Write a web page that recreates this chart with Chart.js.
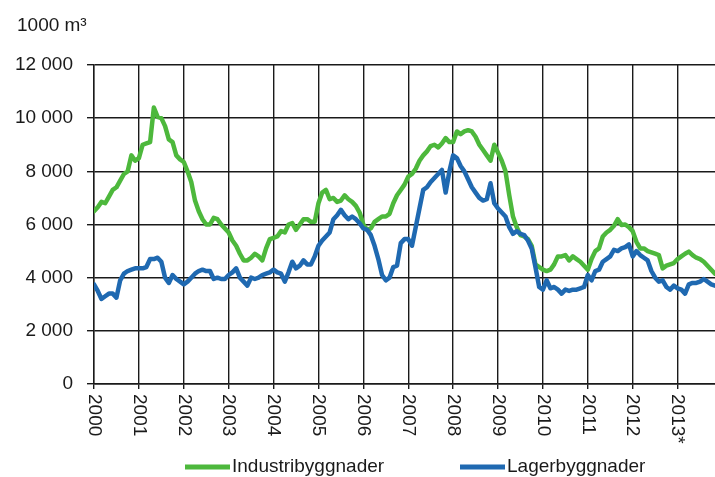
<!DOCTYPE html>
<html>
<head>
<meta charset="utf-8">
<script src="https://cdn.jsdelivr.net/npm/chart.js@4/dist/chart.umd.min.js"></script>
<style>
html,body{margin:0;padding:0;background:#fff;}
#wrap{width:715px;height:477px;position:relative;}
</style>
</head>
<body>
<div id="wrap"><canvas id="c"></canvas></div>
<script>
// Year tick labels (one per January)
const years = ['2000','2001','2002','2003','2004','2005','2006','2007','2008','2009','2010','2011','2012','2013*'];
const yTicks = [0, 2000, 4000, 6000, 8000, 10000, 12000];
const unitLabel = '1000 m³';
const seriesNames = ['Industribyggnader', 'Lagerbyggnader'];

// Monthly values, Jan 2000 ... Nov 2013
const industri = [
  6500, 6650, 6850, 6800, 7050, 7300, 7400, 7650, 7900, 8000, 8600, 8400,
  8500, 9000, 9050, 9100, 10400, 10050, 10000, 9700, 9200, 9100, 8600, 8450,
  8350, 8000, 7600, 6900, 6500, 6200, 6000, 6000, 6250, 6200, 6000, 5850,
  5700, 5400, 5200, 4900, 4650, 4650, 4750, 4900, 4800, 4650, 5100, 5450,
  5500, 5550, 5750, 5700, 6000, 6050, 5800, 6000, 6200, 6200, 6100, 6100,
  6800, 7200, 7300, 6950, 7000, 6850, 6900, 7100, 6950, 6850, 6700, 6450,
  6000, 5800, 5850, 6100, 6200, 6300, 6300, 6400, 6800, 7100, 7300, 7500,
  7800, 7900, 8100, 8400, 8600, 8750, 8950, 9000, 8900, 9050, 9250, 9100,
  9100, 9500, 9400, 9500, 9550, 9500, 9300, 9000, 8800, 8600, 8400, 9000,
  8700, 8400, 8000, 7100, 6300, 5900, 5600, 5550, 5450, 5200, 4500, 4400,
  4300, 4250, 4300, 4500, 4800, 4800, 4850, 4650, 4800, 4700, 4600, 4450,
  4300, 4700, 5000, 5100, 5550, 5700, 5800, 5950, 6200, 5980, 6000, 5900,
  5750, 5350, 5100, 5100, 5000, 4950, 4900, 4850, 4350, 4450, 4500, 4550,
  4700, 4800, 4900, 4980, 4850, 4750, 4700, 4600, 4450, 4300, 4150
];
const lager = [
  3750, 3500, 3200, 3300, 3400, 3400, 3250, 3900, 4150, 4250, 4300, 4350,
  4350, 4350, 4400, 4700, 4700, 4750, 4600, 4000, 3800, 4100, 3950, 3850,
  3750, 3850, 4000, 4150, 4250, 4300, 4250, 4250, 3950, 4000, 3950, 3950,
  4100, 4200, 4350, 4000, 3850, 3700, 4000, 3950, 4000, 4100, 4150, 4200,
  4300, 4200, 4150, 3850, 4200, 4600, 4350, 4450, 4650, 4500, 4500, 4800,
  5200, 5400, 5550, 5700, 6200, 6350, 6550, 6350, 6200, 6300, 6200, 6050,
  5850, 5800, 5600, 5200, 4700, 4100, 3900, 4000, 4400, 4450, 5300, 5450,
  5450, 5200, 5900, 6600, 7300, 7400, 7600, 7750, 7900, 8050, 7200, 8000,
  8600, 8500, 8200, 8000, 7700, 7400, 7200, 7000, 6900, 6950, 7550, 6800,
  6600, 6450, 6300, 5900, 5650, 5750, 5650, 5600, 5400, 5100, 4400, 3650,
  3550, 3900, 3600, 3650, 3550, 3400, 3550, 3500, 3550, 3550, 3600, 3650,
  4100, 3900, 4250, 4300, 4600, 4700, 4800, 5050, 5000, 5100, 5150, 5250,
  4800, 5000, 4850, 4750, 4650, 4250, 4000, 3850, 3900, 3650, 3550, 3700,
  3600, 3550, 3400, 3750, 3800, 3800, 3850, 3950, 3850, 3750, 3700
];
const colors = ['#4db83c', '#1f69b1'];

const FONT = '"Liberation Sans", Arial, sans-serif';
const TEXT = '#1a1a1a';
const GRID = '#1a1a1a';

function fmt(v){ return String(v).replace(/\B(?=(\d{3})+(?!\d))/g, ' '); }

const extras = {
  id: 'extras',
  afterDraw(chart){
    const ctx = chart.ctx;
    const xs = chart.scales.x;
    const area = chart.chartArea;
    ctx.save();
    ctx.fillStyle = TEXT;
    ctx.font = '19px ' + FONT;
    // unit label
    ctx.textAlign = 'left';
    ctx.textBaseline = 'alphabetic';
    ctx.fillText(unitLabel, 17, 31);
    // rotated year labels (reading top to bottom)
    years.forEach((lab, i) => {
      const x = xs.getPixelForValue(i * 12);
      ctx.save();
      ctx.translate(x, area.bottom + 10);
      ctx.rotate(Math.PI / 2);
      ctx.textAlign = 'left';
      ctx.textBaseline = 'middle';
      ctx.fillText(lab, 0, 0);
      ctx.restore();
    });
    // legend
    const ly = 467;
    const starts = [185, 460];
    seriesNames.forEach((name, i) => {
      const sx = starts[i];
      ctx.strokeStyle = colors[i];
      ctx.lineWidth = 5;
      ctx.beginPath();
      ctx.moveTo(sx, ly);
      ctx.lineTo(sx + 45, ly);
      ctx.stroke();
      ctx.fillStyle = TEXT;
      ctx.textAlign = 'left';
      ctx.textBaseline = 'middle';
      ctx.fillText(name, sx + 47, ly);
    });
    ctx.restore();
  }
};

new Chart(document.getElementById('c'), {
  type: 'line',
  data: {
    datasets: [
      { label: seriesNames[0], data: industri.map((v, i) => ({x: i, y: v})), order: 2,
        borderColor: colors[0], backgroundColor: colors[0], borderWidth: 4.5,
        pointRadius: 0, tension: 0, borderJoinStyle: 'round', borderCapStyle: 'round' },
      { label: seriesNames[1], data: lager.map((v, i) => ({x: i, y: v})), order: 1,
        borderColor: colors[1], backgroundColor: colors[1], borderWidth: 4.5,
        pointRadius: 0, tension: 0, borderJoinStyle: 'round', borderCapStyle: 'round' }
    ]
  },
  options: {
    responsive: true,
    maintainAspectRatio: false,
    animation: false,
    events: [],
    layout: { padding: { top: 65, right: 0, bottom: 0, left: 0 } },
    plugins: { legend: { display: false }, tooltip: { enabled: false }, title: { display: false } },
    scales: {
      x: {
        type: 'linear',
        min: 0,
        max: 166,
        afterBuildTicks(scale){ scale.ticks = years.map((_, i) => ({ value: i * 12 })); },
        afterFit(scale){ scale.height = 93; },
        ticks: { display: false },
        grid: { color: GRID, lineWidth: 1.4, drawTicks: true, tickLength: 5 },
        border: { color: GRID, width: 1.4 }
      },
      y: {
        min: 0,
        max: 12000,
        afterBuildTicks(scale){ scale.ticks = yTicks.map(v => ({ value: v })); },
        afterFit(scale){ scale.width = 94; },
        ticks: {
          callback: v => fmt(v),
          font: { family: FONT, size: 19 },
          color: TEXT,
          padding: 14
        },
        grid: { color: GRID, lineWidth: 1.4, tickLength: 7 },
        border: { color: GRID, width: 1.4 }
      }
    }
  },
  plugins: [extras]
});
</script>
</body>
</html>
